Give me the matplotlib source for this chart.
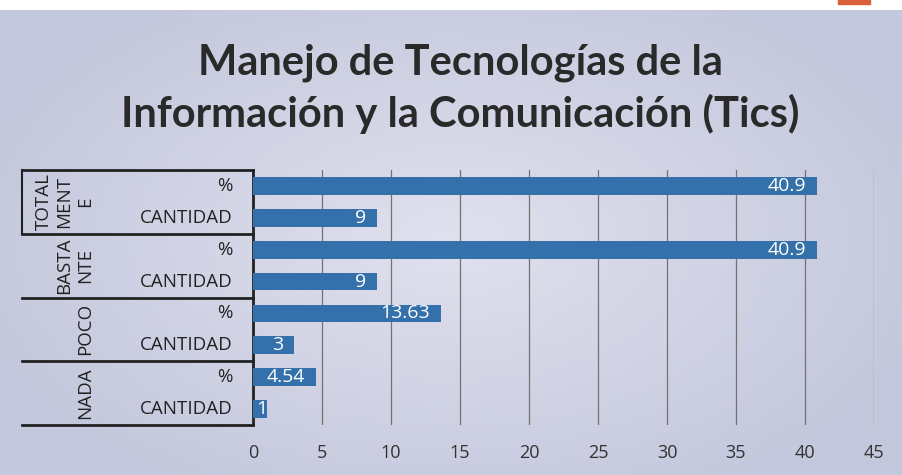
import matplotlib.pyplot as plt
import numpy as np

# ============================================================
# DATA
# ============================================================
groups = ['TOTAL\nMENT\nE', 'BASTA\nNTE', 'POCO', 'NADA']
sub_labels = ['%', 'CANTIDAD']
values = [40.9, 9, 40.9, 9, 13.63, 3, 4.54, 1]
value_text = ['40.9', '9', '40.9', '9', '13.63', '3', '4.54', '1']
xticks = [0, 5, 10, 15, 20, 25, 30, 35, 40, 45]

title = "Manejo de Tecnologías de la\nInformación y la Comunicación (Tics)"

W, H = 902, 475
bar_color = '#3470a9'
ink = '#222222'

fig = plt.figure(figsize=(W / 100, H / 100), dpi=100)
fig.patch.set_facecolor('white')

# slide background (soft gradient, lighter in the middle)
bg_ax = fig.add_axes([0, 0, 1, 1 - 10 / H], zorder=-10)
gx = np.linspace(-1, 1, 200)
gy = np.linspace(-1, 1, 100)
GX, GY = np.meshgrid(gx, gy)
r = np.clip(np.sqrt((GX * 0.9) ** 2 + (GY * 0.8) ** 2), 0, 1)
c_in = np.array([224, 225, 238]) / 255
c_out = np.array([196, 200, 220]) / 255
img = c_in[None, None, :] * (1 - r[..., None]) + c_out[None, None, :] * r[..., None]
bg_ax.imshow(img, aspect='auto', extent=[0, 1, 0, 1])
bg_ax.axis('off')

# small red tab top right
fig.patches.append(plt.Rectangle((838 / W, 1 - 4 / H), 32 / W, 4 / H,
                                 transform=fig.transFigure, color='#d9603b'))

# ============================================================
# BAR AXES
# ============================================================
left, right = 253 / W, 874 / W
bottom, top = 1 - 425 / H, 1 - 170 / H
ax = fig.add_axes([left, bottom, right - left, top - bottom])
ax.set_facecolor('none')

n = len(values)
ypos = np.arange(n)[::-1]
ax.barh(ypos, values, height=0.56, color=bar_color, zorder=3)
ax.set_xlim(0, 45)
ax.set_ylim(-0.5, n - 0.5)

for y, v, t in zip(ypos, values, value_text):
    ax.text(max(v - 0.8, 1.05), y, t, ha='right', va='center', color='white',
            fontsize=14, family='Open Sans', zorder=4)

ax.set_xticks(xticks)
ax.set_xticklabels([str(x) for x in xticks], fontsize=13, color='#333333',
                   family='Open Sans')
ax.tick_params(axis='x', length=0, pad=14)
ax.set_yticks([])
ax.grid(axis='x', color='#727272', linewidth=0.9, zorder=0)
for s in ['top', 'right', 'bottom']:
    ax.spines[s].set_visible(False)
ax.spines['left'].set_color(ink)
ax.spines['left'].set_linewidth(2)

# ============================================================
# CATEGORY TABLE ON THE LEFT
# ============================================================
to_fig = fig.transFigure.inverted()


def yfig(yy):
    return to_fig.transform(ax.transData.transform((0, yy)))[1]


x_line0 = 22 / W
for k in range(len(groups) + 1):
    yy = yfig(n - 0.5 - 2 * k)
    fig.add_artist(plt.Line2D([x_line0, left], [yy, yy], color=ink, lw=2,
                              transform=fig.transFigure))

# short vertical line at left of first group
fig.add_artist(plt.Line2D([x_line0, x_line0], [yfig(n - 0.5), yfig(n - 2.5)],
                          color=ink, lw=1.5, transform=fig.transFigure))

for i, y in enumerate(ypos):
    ax.text(-1.5, y, sub_labels[i % 2], ha='right', va='center', fontsize=13.5,
            color=ink, family='Open Sans', clip_on=False)

for g, name in enumerate(groups):
    fig.text(94 / W, yfig(n - 1.5 - 2 * g), name, rotation=90, ha='right',
             va='center', fontsize=13.5, color=ink, family='Open Sans',
             multialignment='center', linespacing=1.2)

# ============================================================
# TITLE
# ============================================================
fig.text(460 / W, 1 - 89 / H, title, ha='center', va='center',
         fontsize=30, fontweight='bold', color='#2a2a2a', family='Lato',
         linespacing=1.35)

plt.savefig('out.png', dpi=100)
